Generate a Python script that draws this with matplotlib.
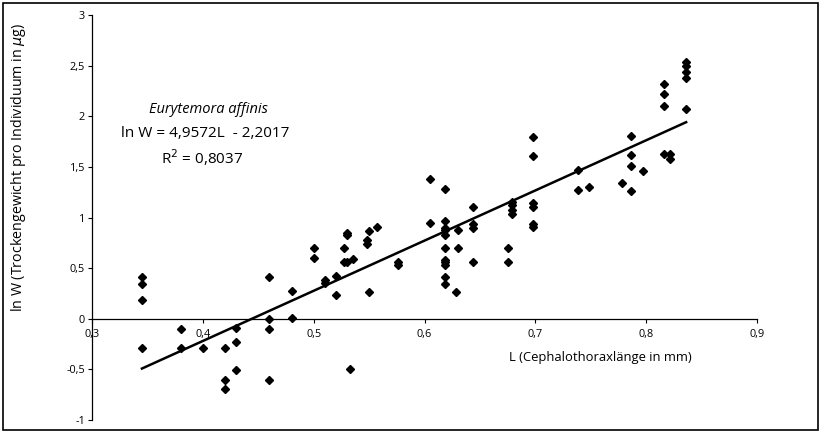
import matplotlib
matplotlib.use("Agg")
import matplotlib.pyplot as plt
from matplotlib.ticker import FuncFormatter
from matplotlib.patches import Rectangle
import numpy as np

plt.rcParams['font.family'] = ['Open Sans', 'DejaVu Sans']

# Cephalothoraxlänge L (mm) und ln W
L = [0.345, 0.345, 0.345, 0.345,
     0.38, 0.38, 0.40,
     0.42, 0.42, 0.42,
     0.43, 0.43, 0.43,
     0.46, 0.46, 0.46, 0.46,
     0.48, 0.48,
     0.50, 0.50, 0.51, 0.51, 0.52, 0.52,
     0.527, 0.527, 0.53, 0.53, 0.53, 0.535, 0.533,
     0.548, 0.548, 0.55, 0.55, 0.557,
     0.576, 0.576,
     0.605, 0.605,
     0.618, 0.618, 0.618, 0.618, 0.618, 0.618, 0.618, 0.618, 0.618, 0.618, 0.618,
     0.628, 0.63, 0.63,
     0.644, 0.644, 0.644, 0.644,
     0.675, 0.675,
     0.679, 0.679, 0.679, 0.679,
     0.698, 0.698, 0.698, 0.698, 0.698, 0.698,
     0.738, 0.738, 0.748, 0.778,
     0.786, 0.786, 0.786, 0.786, 0.797,
     0.816, 0.816, 0.816, 0.816, 0.821, 0.821,
     0.836, 0.836, 0.836, 0.836, 0.836]
lnW = [0.41, 0.34, 0.19, -0.29,
       -0.10, -0.29, -0.29,
       -0.29, -0.60, -0.69,
       -0.09, -0.23, -0.51,
       0.41, 0.00, -0.10, -0.60,
       0.27, 0.01,
       0.70, 0.60, 0.38, 0.35, 0.42, 0.24,
       0.70, 0.56, 0.85, 0.83, 0.56, 0.59, -0.50,
       0.74, 0.78, 0.87, 0.26, 0.91,
       0.56, 0.53,
       1.38, 0.95,
       1.28, 0.97, 0.90, 0.88, 0.83, 0.70, 0.58, 0.56, 0.53, 0.41, 0.34,
       0.26, 0.88, 0.70,
       1.10, 0.94, 0.90, 0.56,
       0.70, 0.56,
       1.15, 1.12, 1.07, 1.04,
       1.80, 1.61, 1.14, 1.10, 0.94, 0.91,
       1.47, 1.27, 1.30, 1.34,
       1.81, 1.62, 1.51, 1.26, 1.46,
       2.32, 2.22, 2.10, 1.63, 1.63, 1.58,
       2.54, 2.50, 2.44, 2.38, 2.07]

# Regression laut Gleichung
slope = 4.9572
intercept = -2.2017
r2 = 0.8037

fig = plt.figure(figsize=(8.22, 4.33), dpi=100)
ax = fig.add_axes([0.112, 0.030, 0.809, 0.935])

ax.plot(L, lnW, linestyle='none', marker='D', markersize=3.6, color='black')
xl = np.array([min(L), max(L)])
ax.plot(xl, slope * xl + intercept, color='black', linewidth=1.8)

ax.set_xlim(0.3, 0.9)
ax.set_ylim(-1, 3)
ax.set_xticks([0.3, 0.4, 0.5, 0.6, 0.7, 0.8, 0.9])
ax.set_yticks([-1, -0.5, 0, 0.5, 1, 1.5, 2, 2.5, 3])

komma = FuncFormatter(lambda v, p: ('%g' % v).replace('.', ','))
ax.xaxis.set_major_formatter(komma)
ax.yaxis.set_major_formatter(komma)

ax.spines['top'].set_visible(False)
ax.spines['right'].set_visible(False)
ax.spines['bottom'].set_position(('data', 0))
ax.spines['left'].set_linewidth(0.9)
ax.spines['bottom'].set_linewidth(0.9)
ax.tick_params(axis='both', direction='out', length=3, width=0.8, labelsize=7.8, pad=2)
ax.tick_params(axis='x', pad=4)

ax.set_ylabel('ln W (Trockengewicht pro Individuum in $\\mu$g)', fontsize=10.3)
ax.yaxis.set_label_coords(-0.097, 0.625)
ax.set_xlabel('L (Cephalothoraxlänge in mm)', fontsize=9.4)
ax.xaxis.set_label_coords(0.765, 0.17)

ax.text(0.405, 2.07, 'Eurytemora affinis', fontsize=10.5, style='italic', ha='center', va='center')
ax.text(0.402, 1.83, 'ln W = 4,9572L  - 2,2017', fontsize=11, ha='center', va='center')
ax.text(0.399, 1.59, 'R$^2$ = 0,8037', fontsize=11, ha='center', va='center')

fig.patches.append(Rectangle((0.004, 0.007), 0.991, 0.986, transform=fig.transFigure,
                             fill=False, edgecolor='black', linewidth=1.2))

fig.savefig('out.png', dpi=100)
